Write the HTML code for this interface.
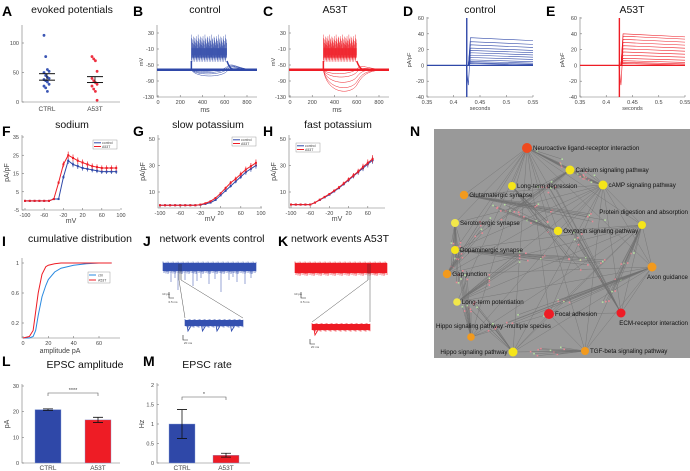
<!DOCTYPE html>
<html><head><meta charset="utf-8"><style>
html,body{margin:0;padding:0;background:#fff}
svg{display:block;font-family:"Liberation Sans",sans-serif}
.t{font-size:5.5px;fill:#444}
.ttl{font-size:10.5px;fill:#111}
.lt{font-size:14px;font-weight:bold;fill:#000}
.ax{stroke:#777;stroke-width:0.6;fill:none}
.nl{font-size:6.2px;fill:#111}
</style></head><body>
<svg id="fig" width="690" height="471" viewBox="0 0 690 471" xmlns="http://www.w3.org/2000/svg">
<g id="g"></g>
</svg>
<script>
// ---- data ----
const aCtrl=[113,77,55,52,50,45,42,40,38,36,34,30,27,24,18];
const aA53=[77,73,70,52,40,36,33,30,27,22,18,3];
const aMeans=[[48,37],[43,33]];
const fV=[-100,-90,-80,-70,-60,-50,-40,-30,-20,-10,0,10,20,30,40,50,60,70,80,90];
const fCtrl=[0,0,0,0,0,0,1,1,13,22,20,19,18,17.5,17,16.5,16,16,16,16];
const fA53=[0,0,0,0,0,0,1,10,20,25,23.5,22,21,20,19,18.5,18,18,18,18];
const gCtrl=[0,0,0,0,0,0,0,0,0.3,1,2,4,7.5,11,14.5,18,21.5,25,27.5,30];
const gA53=[0,0,0,0,0,0,0,0,0.5,1.5,3,5.5,9,13,17,20,23.5,27,29.5,32];
const hCtrl=[0.5,0.5,0.5,0.5,0.5,2,4,6,8,10.5,13,16,19,22,25,28,31,34];
const hA53=[0.5,0.5,0.5,0.5,0.5,2,4.2,6.3,8.5,11,13.5,16.5,19.5,22.5,25.5,29,32,35];
const hV=[-100,-90,-80,-70,-60,-50,-40,-30,-20,-10,0,10,20,30,40,50,60,70];
const iAmp=[0,5,8,10,12,15,18,20,25,30,40,50,60,70];
const iCtrl=[0,0,0.02,0.1,0.3,0.55,0.7,0.78,0.88,0.93,0.97,0.99,1,1];
const iA53=[0,0.02,0.1,0.35,0.6,0.85,0.95,0.97,0.99,1,1,1,1,1];
const lCats=["CTRL","A53T"];
const lVals=[20.8,16.8];
const lErr=[0.3,1.0];
const mVals=[1.0,0.2];
const mErr=[0.37,0.05];
const dSteps=[33,28,24,20,17,14,11,8,5,3,1.5,0.5];
const eSteps=[38,35,31,27,23,19,15,11,7,4,2,0.5];

const NS="http://www.w3.org/2000/svg";
const root=document.getElementById('g');
function el(tag,at,parent){const e=document.createElementNS(NS,tag);for(const k in at)e.setAttribute(k,at[k]);(parent||root).appendChild(e);return e;}
function txt(x,y,s,cls,anchor,parent){const e=el('text',{x:x,y:y,class:cls,'text-anchor':anchor||'middle'},parent);e.textContent=s;return e;}
function lin(a,b,c,d){return v=>c+(v-a)*(d-c)/(b-a);}

// ---- panel letters and titles ----
const letters=[["A",2,16],["B",133,16],["C",263,16],["D",403,16],["E",546,16],["F",2,136],["G",133,136],["H",263,136],["I",2,246],["J",143,246],["K",278,246],["L",2,366],["M",143,366],["N",410,136]];
letters.forEach(l=>{const t=txt(l[1],l[2],l[0],'lt','start');

});
const titles=[["evoked potentials",72,13],["control",205,13],["A53T",335,13],["control",480,13],["A53T",632,13],["sodium",72,128],["slow potassium",208,128],["fast potassium",338,128],["cumulative distribution",80,242],["network events control",212,242],["network events A53T",340,242],["EPSC amplitude",85,368],["EPSC rate",207,368]];
titles.forEach(t=>{const e=txt(t[1],t[2],t[0],'ttl');

});

function axes(x0,x1,y0,y1,name){const g=el('g',{});


el('path',{d:`M${x0},${y0} V${y1} H${x1}`,class:'ax'},g);return g;}
function yt(g,x,ys,labs){ys.forEach((y,i)=>{el('line',{x1:x,x2:x+2,y1:y,y2:y,class:'ax'},g);txt(x-3,y+2,labs[i],'t','end',g);});}
function xt(g,y,xs,labs){xs.forEach((x,i)=>{el('line',{x1:x,x2:x,y1:y,y2:y-2,class:'ax'},g);txt(x,y+7,labs[i],'t','middle',g);});}

// ---- A ----
{const g=axes(22,120,25,102,'panel-a-axes');const Y=lin(0,100,102,43);
yt(g,22,[0,50,100].map(Y),["0","50","100"]);
txt(47,111,"CTRL",'t','middle',g).style.fontSize='6.5px';txt(95,111,"A53T",'t','middle',g).style.fontSize='6.5px';
aCtrl.forEach((v,i)=>{const c=el('circle',{cx:44+(i%4)*1.7,cy:Y(v),r:1.4,fill:'#3a55b4'});

});
aA53.forEach((v,i)=>{const c=el('circle',{cx:92+(i%4)*1.7,cy:Y(v),r:1.4,fill:'#ee3040'});

});
[[47,aMeans[0]],[95,aMeans[1]]].forEach(m=>{m[1].forEach(v=>el('line',{x1:m[0]-8,x2:m[0]+8,y1:Y(v),y2:Y(v),stroke:'#111','stroke-width':1}));el('line',{x1:m[0],x2:m[0],y1:Y(m[1][0]),y2:Y(m[1][1]),stroke:'#111','stroke-width':0.8});});}

// ---- B & C voltage traces ----
function vtrace(x0,color,name,sx,sEnd,hyper){const g=axes(x0,x0+100,25,97,name);const Y=lin(30,-130,33,97);
yt(g,x0,[30,-10,-50,-90,-130].map(Y),["30","-10","-50","-90","-130"]);
const X=lin(0,800,x0+1,x0+90);xt(g,97,[0,200,400,600,800].map(X),["0","200","400","600","800"]);
txt(x0+48,112,"ms",'t','middle',g).style.fontSize='7px';
const yl=txt(x0-14,62,"mV",'t','middle',g);yl.setAttribute('transform',`rotate(-90 ${x0-14} 62)`);
const base=Y(-62);
el('line',{x1:x0,x2:x0+100,y1:base,y2:base,stroke:color,'stroke-width':2.5},g);
const a=X(sx),b=X(sEnd);
for(let k=0;k<110;k++){const xx=a+(b-a)*k/110;const top=Y(26-(k%7)*4-(k%3)*5);
el('line',{x1:xx,x2:xx,y1:top,y2:Y(-42+(k%5)*4),stroke:color,'stroke-width':0.5,opacity:0.8},g);}
el('rect',{x:a,y:Y(-8),width:b-a,height:Y(-32)-Y(-8),fill:color,opacity:0.55},g);
el('path',{d:`M${a},${base} V${Y(-40)} M${b},${Y(-40)} C${b+3},${base} ${b+6},${base} ${b+10},${base}`,stroke:color,'stroke-width':1.5,fill:'none'},g);
hyper.forEach(h=>el('path',{d:`M${a},${base} C${a+4},${Y(h)} ${b-6},${Y(h)} ${b},${Y(h*0.8)} S${b+10},${base} ${x0+100},${base}`,stroke:color,'stroke-width':0.5,fill:'none'},g));
return g;}
vtrace(157,'#2f48a8','panel-b-control-traces',300,620,[-68,-72,-76,-82]);
vtrace(289,'#ee1c25','panel-c-a53t-traces',300,600,[-75,-85,-100,-115,-125]);

// ---- D & E current steps ----
function steps(x0,w,color,name,vals,spikeLo){const g=axes(x0,x0+w,17,97,name);const Y=lin(60,-40,18,97);
yt(g,x0,[60,40,20,0,-20,-40].map(Y),["60","40","20","0","-20","-40"]);
const X=lin(0.35,0.55,x0,x0+w);xt(g,97,[0.35,0.4,0.45,0.5,0.55].map(X),["0.35","0.4","0.45","0.5","0.55"]);
txt(x0+w/2,110,"seconds",'t','middle',g);
const yl=txt(x0-16,60,"pA/pF",'t','middle',g);yl.setAttribute('transform',`rotate(-90 ${x0-16} 60)`);
el('line',{x1:x0,x2:x0+w,y1:Y(0),y2:Y(0),stroke:color,'stroke-width':1.2},g);
el('line',{x1:X(0.425),x2:X(0.425),y1:Y(60),y2:Y(spikeLo),stroke:color,'stroke-width':1.4},g);
el('path',{d:`M${X(0.424)},${Y(0)} L${X(0.428)},${Y(-25)} L${X(0.431)},${Y(10)}`,stroke:color,'stroke-width':0.6,fill:'none'},g);
vals.forEach(v=>{const p=el('path',{d:`M${X(0.428)},${Y(0)} L${X(0.432)},${Y(v+2)} L${X(0.55)},${Y(v*0.95)}`,stroke:color,'stroke-width':0.6,fill:'none'},g);

});}
steps(427,106,'#2f48a8','panel-d-control-currents',dSteps,-40);
steps(580,105,'#ee1c25','panel-e-a53t-currents',eSteps,-40);

// ---- IV curves F,G,H ----
function iv(x0,x1,y0,y1,Xd,Yd,ticksY,labsY,ticksX,labsX,volts,c1,c2,name,leg){const g=axes(x0,x1,y0,y1,name);
const X=lin(Xd[0],Xd[1],Xd[2],Xd[3]),Y=lin(Yd[0],Yd[1],Yd[2],Yd[3]);
yt(g,x0,ticksY.map(Y),labsY);xt(g,y1,ticksX.map(X),labsX);
txt((x0+x1)/2,y1+13,"mV",'t','middle',g).style.fontSize='7px';
const yl=txt(x0-13,(y0+y1)/2,"pA/pF",'t','middle',g);yl.setAttribute('transform',`rotate(-90 ${x0-13} ${(y0+y1)/2})`);yl.style.fontSize='7px';
[[c1,'#2f48a8'],[c2,'#ee1c25']].forEach(s=>{el('polyline',{points:volts.map((v,i)=>X(v)+','+Y(s[0][i])).join(' '),stroke:s[1],'stroke-width':1,fill:'none'},g);
volts.forEach((v,i)=>{const e=Math.max(0.3,s[0][i]*0.08);el('line',{x1:X(v),x2:X(v),y1:Y(s[0][i]+e),y2:Y(s[0][i]-e),stroke:s[1],'stroke-width':0.7},g);
const m=el('rect',{x:X(v)-1,y:Y(s[0][i])-1,width:2,height:2,fill:s[1]},g);

});});
const lg=el('g',{},g);


el('rect',{x:leg[0],y:leg[1],width:24,height:9,fill:'#fff',stroke:'#888','stroke-width':0.4},lg);
el('line',{x1:leg[0]+1,x2:leg[0]+8,y1:leg[1]+2.8,y2:leg[1]+2.8,stroke:'#2f48a8'},lg);
el('line',{x1:leg[0]+1,x2:leg[0]+8,y1:leg[1]+6.5,y2:leg[1]+6.5,stroke:'#ee1c25'},lg);
const a=txt(leg[0]+9,leg[1]+4,"control",'t','start',lg);a.style.fontSize='3.5px';
const b=txt(leg[0]+9,leg[1]+8,"A53T",'t','start',lg);b.style.fontSize='3.5px';}
iv(22,120,135,210,[-100,100,25,121],[35,-5,137,210],[35,25,15,5,-5],["35","25","15","5","-5"],[-100,-60,-20,20,60,100],["-100","-60","-20","20","60","100"],fV,fCtrl,fA53,'panel-f-sodium',[93,140]);
iv(158,262,135,208,[-100,100,160,261],[50,10,139,192],[50,30,10],["50","30","10"],[-100,-60,-20,20,60,100],["-100","-60","-20","20","60","100"],fV,gCtrl,gA53,'panel-g-slow-potassium',[232,137]);
iv(289,385,135,208,[-100,100,291,387],[50,10,139,192],[50,30,10],["50","30","10"],[-100,-60,-20,20,60],["-100","-60","-20","20","60"],hV,hCtrl,hA53,'panel-h-fast-potassium',[296,143]);

// ---- I cumulative ----
{const g=axes(22,120,258,338,'panel-i-cumulative');const X=lin(0,60,23,99),Y=lin(1,0.2,263,323);
yt(g,22,[1,0.6,0.2].map(Y),["1","0.6","0.2"]);xt(g,338,[0,20,40,60].map(X),["0","20","40","60"]);
txt(60,353,"amplitude pA",'t','middle',g).style.fontSize='7px';
[[iCtrl,'#2a8ae0'],[iA53,'#ee1c25']].forEach(s=>{const p=el('polyline',{points:iAmp.map((a,i)=>X(a)+','+Y(s[0][i])).join(' '),stroke:s[1],'stroke-width':1,fill:'none'},g);

});
el('rect',{x:88,y:272,width:22,height:11,fill:'#fff',stroke:'#888','stroke-width':0.4},g);
el('line',{x1:89,x2:96,y1:275,y2:275,stroke:'#2a8ae0'},g);el('line',{x1:89,x2:96,y1:280,y2:280,stroke:'#ee1c25'},g);
txt(98,276.5,"ctrl",'t','start',g).style.fontSize='3.5px';txt(98,281.5,"A53T",'t','start',g).style.fontSize='3.5px';}

// ---- J & K network events ----
function netev(x0,x1,color,name,dips,zx0,zx1,zy,nd,ctrl){const g=el('g',{});


el('rect',{x:x0,y:263,width:x1-x0,height:ctrl?8:10,fill:color},g);
for(let k=0;k<=(x1-x0);k++){const xx=x0+k;
el('line',{x1:xx,x2:xx,y1:261.5+((k*37)%5)*0.4,y2:(ctrl?271:273)+((k*53)%7)*0.5,stroke:color,'stroke-width':0.6},g);}
for(let k=0;k<dips.length;k++){el('line',{x1:x0+dips[k][0],x2:x0+dips[k][0],y1:268,y2:272+dips[k][1],stroke:color,'stroke-width':0.6,opacity:0.85},g);}
const sx=x0+(ctrl?16:73);
el('line',{x1:sx,x2:sx,y1:264,y2:280,stroke:'#222','stroke-width':0.5},g);
el('line',{x1:sx+2,x2:sx+2,y1:264,y2:280,stroke:'#222','stroke-width':0.5},g);
el('path',{d:`M${sx},280 L${zx0},${zy}`,stroke:'#555','stroke-width':0.5,fill:'none'},g);
el('path',{d:`M${sx+2},280 L${zx1},${zy}`,stroke:'#555','stroke-width':0.5,fill:'none'},g);
el('rect',{x:zx0,y:zy+2,width:zx1-zx0,height:6,fill:color},g);
for(let k=0;k<=(zx1-zx0);k++){const xx=zx0+k;
el('line',{x1:xx,x2:xx,y1:zy+1+((k*29)%5)*0.4,y2:zy+8+((k*41)%5)*0.4,stroke:color,'stroke-width':0.6},g);}
for(let k=0;k<nd;k++){const xx=zx0+2+k*(zx1-zx0)/nd;el('path',{d:`M${xx},${zy+7} l1,6 l3,-5`,stroke:color,'stroke-width':0.9,fill:'none'},g);}
el('path',{d:`M${x0+6},292 v6 h5`,stroke:'#222','stroke-width':0.6,fill:'none'},g);
txt(x0+3,295,"10 pA",'t','middle',g).style.fontSize='3px';txt(x0+10,303,"0.5 ms",'t','middle',g).style.fontSize='3px';
el('path',{d:`M${zx0-2},${zy+17} v5 h5`,stroke:'#222','stroke-width':0.6,fill:'none'},g);
txt(zx0+3,zy+26,"20 ms",'t','middle',g).style.fontSize='3px';}
netev(163,256,'#3450b0','panel-j-network-control',[[8,10],[15,18],[22,8],[30,14],[38,6],[46,12],[58,20],[66,8],[74,10],[82,12],[88,6],[12,6],[34,9],[52,7],[70,5]],185,243,318,4,true);
netev(295,387,'#ee1c25','panel-k-network-a53t',[[10,2],[30,2],[55,2],[80,3]],312,370,322,1,false);

// ---- L & M bars ----
function bars(x0,x1,y0,Yd,ticks,labs,vals,errs,bx,bw,name,ylabel,stars,by){const g=axes(x0,x1,y0,463,name);const Y=lin(Yd[0],Yd[1],Yd[2],Yd[3]);
yt(g,x0,ticks.map(Y),labs);
const yl=txt(x0-13,424,ylabel,'t','middle',g);yl.setAttribute('transform',`rotate(-90 ${x0-13} 424)`);yl.style.fontSize='7px';
const cols=['#2f48a8','#ee1c25'];
vals.forEach((v,i)=>{const r=el('rect',{x:bx[i],y:Y(v),width:bw,height:463-Y(v),fill:cols[i],stroke:'#8aa0d8','stroke-width':0.4},g);


const cx=bx[i]+bw/2;
el('path',{d:`M${cx},${Y(v+errs[i])} V${Y(v-errs[i])} M${cx-5},${Y(v+errs[i])} h10 M${cx-5},${Y(v-errs[i])} h10`,stroke:'#111','stroke-width':0.8,fill:'none'},g);
const t=txt(cx,470,lCats[i],'t','middle',g);t.style.fontSize='6.5px';});
const c0=bx[0]+bw/2,c1=bx[1]+bw/2;
el('path',{d:`M${c0},${by+3} V${by} H${c1} V${by+3}`,stroke:'#555','stroke-width':0.6,fill:'none'},g);
txt((c0+c1)/2,by-1,stars,'t','middle',g);}
bars(22,120,384,[30,0,386,463],[30,20,10,0],["30","20","10","0"],lVals,lErr,[35,85],26,'panel-l-epsc-amplitude',"pA","****",393);
bars(157,250,383,[2,0,385,463],[2,1.5,1,0.5,0],["2","1.5","1","0.5","0"],mVals,mErr,[169,213],26,'panel-m-epsc-rate',"Hz","*",397);

// ---- N network ----
{const g=el('g',{});


el('rect',{x:434,y:129,width:256,height:229,fill:'#999'},g);
const nodes=[["Neuroactive ligand-receptor interaction",527,148,'#f04a1e',5,'r'],["Calcium signaling pathway",570,170,'#f5e51a',4.5,'r'],["Long-term depression",512,186,'#f5e51a',4,'r'],["cAMP signaling pathway",603,185,'#f5e51a',4.5,'r'],["Glutamatergic synapse",464,195,'#f29a1e',4.2,'r'],["Serotonergic synapse",455,223,'#f2e84a',4,'r'],["Protein digestion and absorption",642,225,'#f5e51a',4,'p'],["Oxytocin signaling pathway",558,231,'#f5e51a',4.2,'r'],["Dopaminergic synapse",455,250,'#f5e51a',4,'r'],["Axon guidance",652,267,'#f29a1e',4.5,'b'],["Gap junction",447,274,'#f29a1e',4.2,'r'],["Long-term potentiation",457,302,'#f2e84a',3.8,'r'],["Focal adhesion",549,314,'#ee1c25',5,'r'],["ECM-receptor interaction",621,313,'#ee1c25',4.5,'b'],["Hippo signaling pathway -multiple species",471,337,'#f29a1e',3.8,'a'],["Hippo signaling pathway",513,352,'#f5e51a',4.5,'l'],["TGF-beta signaling pathway",585,351,'#f29a1e',4,'r']];
const eg=el('g',{stroke:'#6e6e6e','stroke-width':0.5,opacity:0.75},g);
for(let i=0;i<nodes.length;i++)for(let j=i+1;j<nodes.length;j++){if((i*7+j*3)%3!==0)continue;
el('line',{x1:nodes[i][1],y1:nodes[i][2],x2:nodes[j][1],y2:nodes[j][2]},eg);}
for(let k=0;k<170;k++){const n=nodes[k%nodes.length];const m=nodes[(k*5+3)%nodes.length];const f=0.2+((k*37)%60)/100;
const dx=n[1]+(m[1]-n[1])*f+((k*13)%11-5),dy=n[2]+(m[2]-n[2])*f+((k*17)%9-4);
el('line',{x1:n[1],y1:n[2],x2:dx,y2:dy,stroke:'#707070','stroke-width':0.45},g);
el('rect',{x:dx-0.8,y:dy-0.8,width:1.6,height:1.6,fill:k%3?'#e88a95':'#b6e0a0'},g);}
nodes.forEach(n=>{const c=el('circle',{cx:n[1],cy:n[2],r:n[4],fill:n[3]},g);


let x=n[1]+n[4]+1,y=n[2]+2,a='start';
if(n[5]==='p'){x=688;y=n[2]-11;a='end';}
if(n[5]==='b'){x=688;y=n[2]+12;a='end';}
if(n[5]==='a'){x=436;y=n[2]-9;}
if(n[5]==='l'){x=n[1]-n[4]-1;a='end';}
const t=txt(x,y,n[0],'nl',a,g);

});}
</script>
</body></html>
